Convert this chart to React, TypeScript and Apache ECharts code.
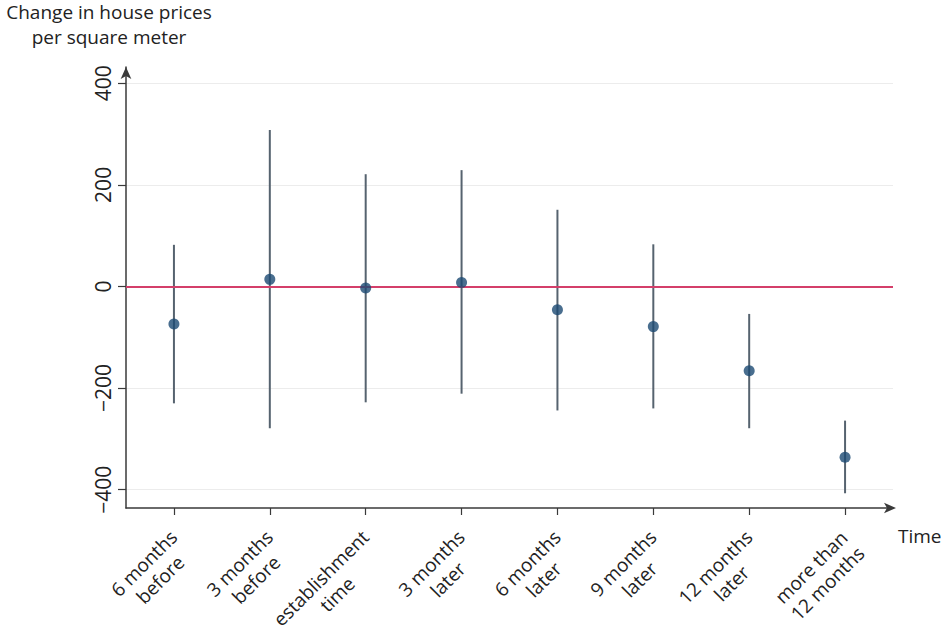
import React, { useEffect, useRef } from "react";
import * as echarts from "echarts";

const categories = [
  "6 months\nbefore",
  "3 months\nbefore",
  "establishment\ntime",
  "3 months\nlater",
  "6 months\nlater",
  "9 months\nlater",
  "12 months\nlater",
  "more than\n12 months",
];
const estimates = [-74, 14, -3, 8, -46, -79, -166, -336];
const upperBounds = [82, 308, 221, 229, 151, 83, -54, -264];
const lowerBounds = [-230, -279, -228, -211, -244, -240, -279, -407];
const yTickValues = [-400, -200, 0, 200, 400];

const FONT = "'Open Sans', 'Noto Sans', sans-serif";

export default function App() {
  const ref = useRef<HTMLDivElement>(null);

  useEffect(() => {
    document.body.style.margin = "0";
    if (!ref.current) return;
    const chart = echarts.init(ref.current, null, { renderer: "svg" });

    const intervalData = categories.map((c, i) => [i, lowerBounds[i], upperBounds[i]]);
    const pointData = categories.map((c, i) => [i, estimates[i]]);

    chart.setOption({
      animation: false,
      backgroundColor: "#ffffff",
      textStyle: { fontFamily: FONT },
      grid: {
        left: 126,
        right: 48,
        top: 67,
        bottom: 126,
        containLabel: false,
        outerBoundsMode: "none",
      },
      xAxis: {
        type: "category",
        data: categories,
        boundaryGap: true,
        name: "Time",
        nameLocation: "end",
        nameGap: 5,
        nameTextStyle: {
          fontFamily: FONT,
          fontSize: 19,
          color: "#222",
          verticalAlign: "top",
          align: "left",
          lineHeight: 20,
          padding: [18, 0, 0, 0],
        },
        axisLine: {
          show: true,
          onZero: false,
          symbol: ["none", "arrow"],
          symbolSize: [8, 12],
          symbolOffset: [0, 3],
          lineStyle: { color: "#3a3a3a", width: 1.5 },
        },
        axisTick: {
          show: true,
          alignWithLabel: true,
          length: 7,
          lineStyle: { color: "#3a3a3a", width: 1.2 },
        },
        axisLabel: {
          interval: 0,
          rotate: 45,
          margin: 26,
          padding: [22, 0, 0, 0],
          color: "#222",
          formatter: (v: string) => v.split("\n").map((l) => `{a|${l}}`).join("\n"),
          rich: {
            a: { align: "center", fontFamily: FONT, fontSize: 19, lineHeight: 23, color: "#222" },
          },
        },
        splitLine: { show: false },
      },
      yAxis: {
        type: "value",
        min: -436,
        max: 432,
        name: "Change in house prices\nper square meter",
        nameLocation: "end",
        nameGap: 18,
        nameTextStyle: {
          fontFamily: FONT,
          fontSize: 19,
          color: "#222",
          align: "center",
          verticalAlign: "bottom",
          lineHeight: 25,
          padding: [0, 34, 0, 0],
        },
        axisLine: {
          show: true,
          symbol: ["none", "arrow"],
          symbolSize: [8, 12],
          symbolOffset: [0, 0],
          lineStyle: { color: "#3a3a3a", width: 1.5 },
        },
        axisTick: {
          show: true,
          length: 8,
          customValues: yTickValues,
          lineStyle: { color: "#3a3a3a", width: 1.2 },
        },
        axisLabel: {
          rotate: 90,
          margin: 13,
          customValues: yTickValues,
          fontFamily: FONT,
          fontSize: 21,
          color: "#222",
          formatter: (v: number) => (v < 0 ? "\u2212" + Math.abs(v) : String(v)),
        },
        splitLine: { show: true, lineStyle: { color: "#ececec", width: 1 } },
      },
      series: [
        {
          type: "custom",
          name: "interval",
          data: intervalData,
          encode: { x: 0, y: [1, 2] },
          renderItem: (params: any, api: any) => {
            const x = api.value(0);
            const lo = api.coord([x, api.value(1)]);
            const hi = api.coord([x, api.value(2)]);
            return {
              type: "line",
              shape: { x1: lo[0], y1: lo[1], x2: hi[0], y2: hi[1] },
              style: { stroke: "#56636f", lineWidth: 2 },
            };
          },
          z: 2,
        },
        {
          type: "scatter",
          name: "estimate",
          data: pointData,
          symbol: "circle",
          symbolSize: 11,
          itemStyle: { color: "#1b4a73" },
          z: 4,
          markLine: {
            silent: true,
            symbol: ["none", "none"],
            label: { show: false },
            lineStyle: { color: "#d43f6a", width: 2, type: "solid" },
            data: [{ yAxis: 0 }],
            z: 3,
          },
        },
      ],
    });

    return () => {
      chart.dispose();
    };
  }, []);

  return <div ref={ref} style={{ width: 941, height: 634 }} />;
}
